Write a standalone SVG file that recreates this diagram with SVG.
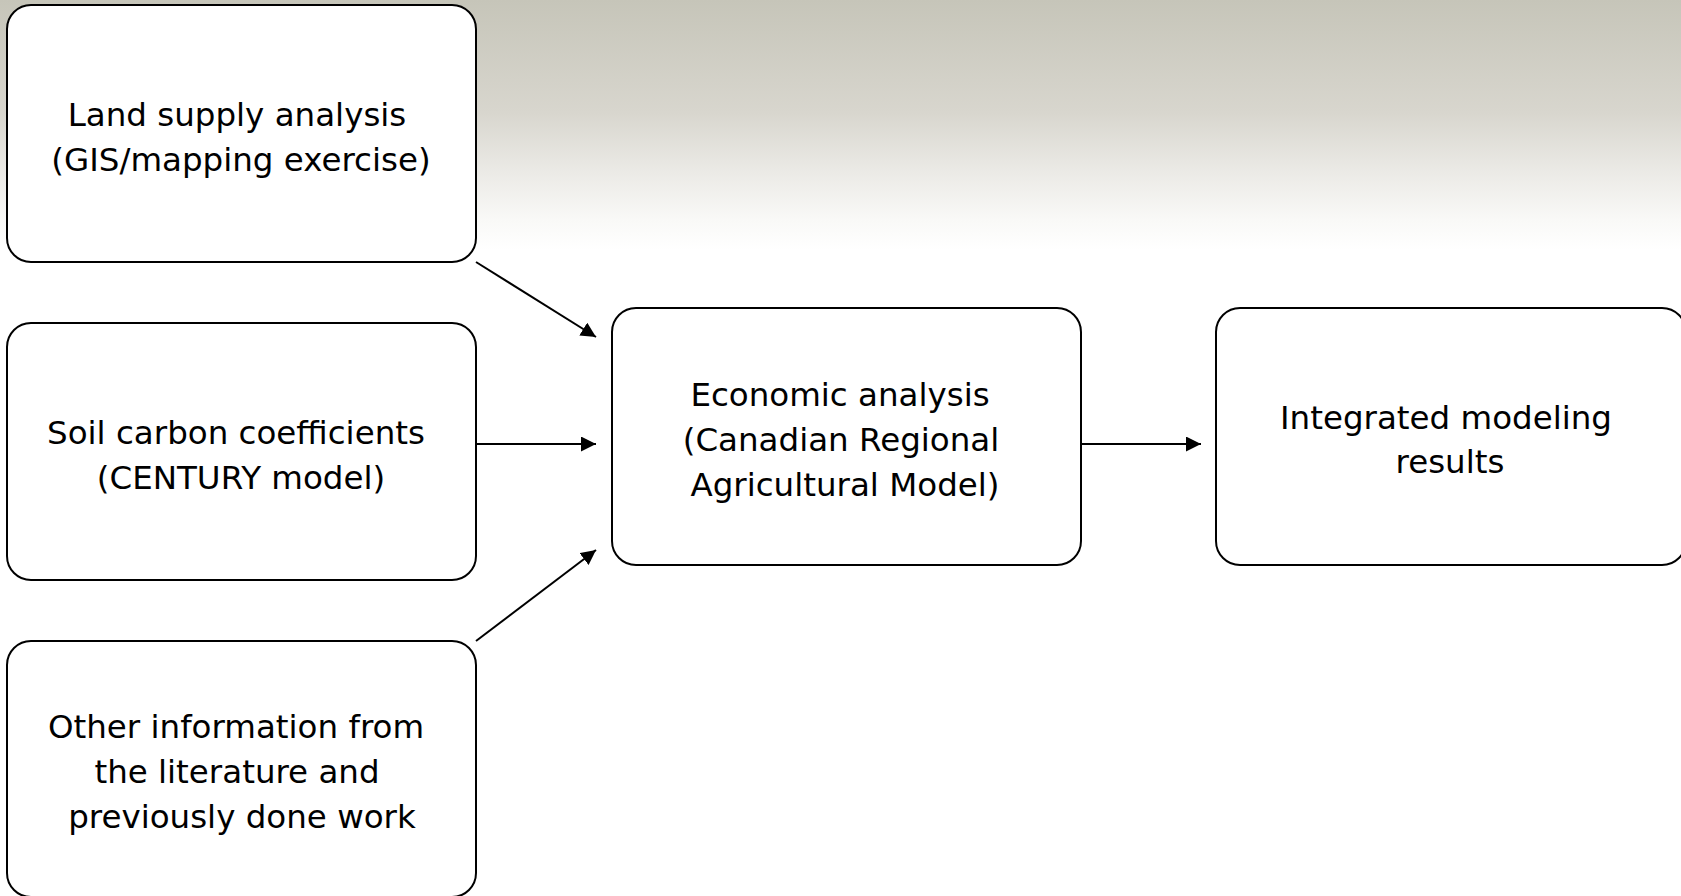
<svg xmlns="http://www.w3.org/2000/svg" width="1681" height="896" viewBox="0 0 1681 896">
  <defs>
    <linearGradient id="bg" x1="0" y1="0" x2="0" y2="1">
      <stop offset="0" stop-color="#c6c5b9"/>
      <stop offset="0.45" stop-color="#d8d6ce"/>
      <stop offset="0.7" stop-color="#ecebe7"/>
      <stop offset="0.88" stop-color="#f9f9f7"/>
      <stop offset="1" stop-color="#ffffff"/>
    </linearGradient>
    <marker id="arrow" markerWidth="15" markerHeight="15" refX="15" refY="7.5" orient="auto" markerUnits="userSpaceOnUse">
      <path d="M0,0 L15,7.5 L0,15 Z" fill="#000"/>
    </marker>
    <style>
      .box { fill: #ffffff; stroke: #000; stroke-width: 2; }
      .lbl { font-family: "DejaVu Sans", Verdana, sans-serif; font-size: 32.5px; fill: #000; text-anchor: middle; }
      .conn { stroke: #000; stroke-width: 2; fill: none; marker-end: url(#arrow); }
    </style>
  </defs>
  <rect x="0" y="0" width="1681" height="896" fill="#ffffff"/>
  <rect x="0" y="0" width="1681" height="250" fill="url(#bg)"/>

  <g id="node-land">
    <rect class="box" x="7" y="5" width="469" height="257" rx="24" ry="24"/>
    <text class="lbl" x="237" y="126">Land supply analysis</text>
    <text class="lbl" x="241" y="171">(GIS/mapping exercise)</text>
  </g>
  <g id="node-soil">
    <rect class="box" x="7" y="323" width="469" height="257" rx="24" ry="24"/>
    <text class="lbl" x="236" y="444">Soil carbon coefficients</text>
    <text class="lbl" x="241" y="489">(CENTURY model)</text>
  </g>
  <g id="node-other">
    <rect class="box" x="7" y="641" width="469" height="256" rx="24" ry="24"/>
    <text class="lbl" x="236" y="738">Other information from</text>
    <text class="lbl" x="237" y="783">the literature and</text>
    <text class="lbl" x="242" y="828">previously done work</text>
  </g>
  <g id="node-econ">
    <rect class="box" x="612" y="308" width="469" height="257" rx="24" ry="24"/>
    <text class="lbl" x="840" y="406">Economic analysis</text>
    <text class="lbl" x="841" y="451">(Canadian Regional</text>
    <text class="lbl" x="845" y="496">Agricultural Model)</text>
  </g>
  <g id="node-results">
    <rect class="box" x="1216" y="308" width="470" height="257" rx="24" ry="24"/>
    <text class="lbl" x="1446" y="429">Integrated modeling</text>
    <text class="lbl" x="1450" y="473">results</text>
  </g>

  <g id="connectors">
    <line class="conn" x1="476" y1="262" x2="596" y2="337"/>
    <line class="conn" x1="476" y1="444" x2="596" y2="444"/>
    <line class="conn" x1="476" y1="641" x2="596" y2="550"/>
    <line class="conn" x1="1081" y1="444" x2="1201" y2="444"/>
  </g>
</svg>
